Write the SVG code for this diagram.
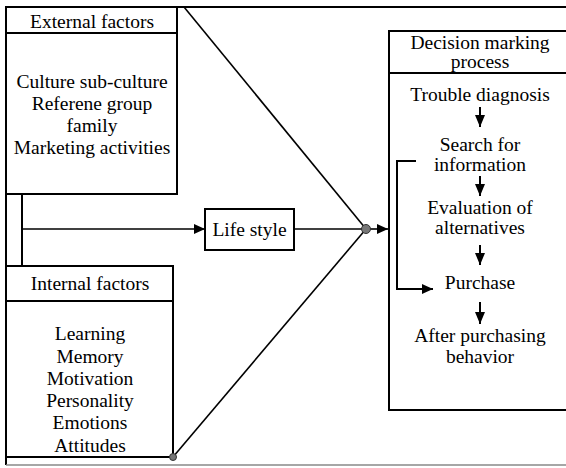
<svg xmlns="http://www.w3.org/2000/svg" width="566" height="468" viewBox="0 0 566 468">
<defs>
<marker id="ah" markerWidth="11" markerHeight="10" refX="11" refY="5" orient="auto" markerUnits="userSpaceOnUse">
<path d="M0,0 L11,5 L0,10 Z" fill="#000"/>
</marker>
<marker id="ahs" markerWidth="12" markerHeight="10" refX="12" refY="5" orient="auto" markerUnits="userSpaceOnUse">
<path d="M0,0 L12,5 L0,10 Z" fill="#000"/>
</marker>
<style>
.box{fill:none;stroke:#000;stroke-width:2}
.ln{fill:none;stroke:#000;stroke-width:1.6}
.t{font-family:'Liberation Serif','Times New Roman',serif;font-size:19.5px;fill:#000;text-anchor:middle}
.dot{fill:#777;stroke:#333;stroke-width:1}
</style>
</defs>
<rect width="566" height="468" fill="#fff"/>
<g id="frame">
<line x1="6" y1="7" x2="566" y2="7" stroke="#000" stroke-width="2"/>
<line x1="6" y1="7" x2="6" y2="465" stroke="#000" stroke-width="2"/>
<line x1="6" y1="465" x2="566" y2="465" stroke="#888" stroke-width="1.5"/>
</g>
<g id="external">
<rect class="box" x="6" y="7" width="171" height="187"/>
<line class="box" x1="6" y1="33" x2="177" y2="33"/>
<text class="t" x="92" y="28">External factors</text>
<text class="t" x="92" y="88">Culture sub-culture</text>
<text class="t" x="92" y="110">Referene group</text>
<text class="t" x="92" y="132">family</text>
<text class="t" x="92" y="154">Marketing activities</text>
</g>
<g id="internal">
<rect class="box" x="6" y="266" width="167" height="191"/>
<line class="box" x1="6" y1="301" x2="173" y2="301"/>
<text class="t" x="90" y="290">Internal factors</text>
<text class="t" x="90" y="340">Learning</text>
<text class="t" x="90" y="363">Memory</text>
<text class="t" x="90" y="385">Motivation</text>
<text class="t" x="90" y="407">Personality</text>
<text class="t" x="90" y="429">Emotions</text>
<text class="t" x="90" y="452">Attitudes</text>
</g>
<g id="lifestyle">
<rect class="box" x="205" y="209" width="89" height="41"/>
<text class="t" x="249.5" y="236">Life style</text>
</g>
<g id="decision">
<path class="box" d="M570,31 L389,31 L389,410 L570,410"/>
<line class="box" x1="389" y1="73" x2="566" y2="73"/>
<text class="t" x="480" y="49">Decision marking</text>
<text class="t" x="480" y="68">process</text>
<text class="t" x="480" y="101">Trouble diagnosis</text>
<text class="t" x="480" y="151">Search for</text>
<text class="t" x="480" y="171">information</text>
<text class="t" x="480" y="214">Evaluation of</text>
<text class="t" x="480" y="234">alternatives</text>
<text class="t" x="480" y="289">Purchase</text>
<text class="t" x="480" y="342">After purchasing</text>
<text class="t" x="480" y="363">behavior</text>
</g>
<g id="connectors">
<line class="box" x1="22" y1="194" x2="22" y2="266"/>
<line class="ln" x1="22" y1="229" x2="205" y2="229" marker-end="url(#ah)"/>
<line class="ln" x1="294" y1="229" x2="366" y2="229"/>
<line class="ln" x1="184" y1="7" x2="366" y2="229"/>
<line class="ln" x1="173" y1="457" x2="366" y2="229"/>
<line class="ln" x1="366" y1="229" x2="388" y2="229" marker-end="url(#ah)"/>
<circle class="dot" cx="366" cy="229" r="4.5"/>
<circle class="dot" cx="173" cy="457" r="3.5"/>
<line class="box" x1="480" y1="107" x2="480" y2="127" marker-end="url(#ahs)"/>
<line class="box" x1="480" y1="176" x2="480" y2="196" marker-end="url(#ahs)"/>
<line class="box" x1="480" y1="245" x2="480" y2="265" marker-end="url(#ahs)"/>
<line class="box" x1="480" y1="302" x2="480" y2="324" marker-end="url(#ahs)"/>
<path class="box" d="M416,161 L397,161 L397,289 L433,289" marker-end="url(#ah)"/>
</g>
</svg>
